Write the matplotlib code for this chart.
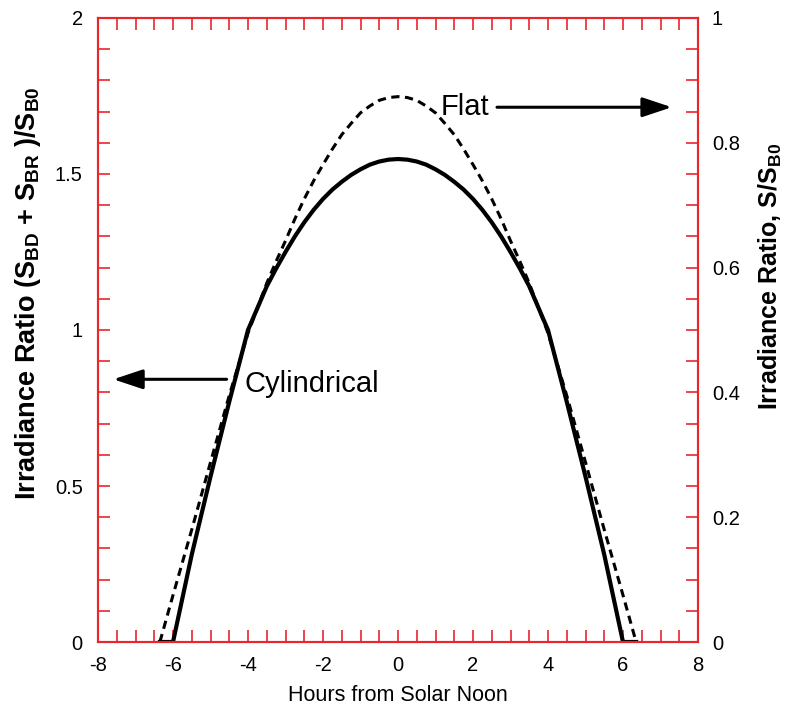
import matplotlib
matplotlib.use("Agg")
import matplotlib.pyplot as plt
from matplotlib.ticker import MultipleLocator, FormatStrFormatter

plt.rcParams['font.family'] = ['Liberation Sans', 'DejaVu Sans']
plt.rcParams['mathtext.fontset'] = 'custom'
plt.rcParams['mathtext.rm'] = 'Liberation Sans'
plt.rcParams['mathtext.bf'] = 'Liberation Sans:bold'
plt.rcParams['axes.unicode_minus'] = False

# hours from solar noon
hours = [-6.35, -6.0, -5.5, -5.0, -4.5, -4.0, -3.5, -3.25, -3.0, -2.75, -2.5, -2.25, -2.0,
         -1.75, -1.5, -1.25, -1.0, -0.75, -0.5, -0.25, 0.0,
         0.25, 0.5, 0.75, 1.0, 1.25, 1.5, 1.75, 2.0, 2.25, 2.5, 2.75, 3.0, 3.25, 3.5,
         4.0, 4.5, 5.0, 5.5, 6.0, 6.35]
# cylindrical collector, left axis
cyl = [0.0, 0.0, 0.28, 0.53, 0.77, 1.0, 1.14, 1.197, 1.25, 1.30, 1.345, 1.385, 1.42,
       1.45, 1.475, 1.497, 1.515, 1.53, 1.54, 1.546, 1.548,
       1.546, 1.54, 1.53, 1.515, 1.497, 1.475, 1.45, 1.42, 1.385, 1.345, 1.30, 1.25, 1.197, 1.14,
       1.0, 0.77, 0.53, 0.28, 0.0, 0.0]
# flat collector, right axis
flat = [0.0, 0.075, 0.18, 0.288, 0.395, 0.495, 0.575, 0.61, 0.643, 0.678, 0.71, 0.739, 0.765,
        0.79, 0.813, 0.831, 0.848, 0.859, 0.868, 0.8725, 0.874,
        0.8725, 0.868, 0.859, 0.848, 0.831, 0.813, 0.79, 0.765, 0.739, 0.71, 0.678, 0.643, 0.61, 0.575,
        0.495, 0.395, 0.288, 0.18, 0.075, 0.0]

red = '#e8262b'

fig = plt.figure(figsize=(8, 7.17), dpi=100)
ax = fig.add_axes([0.1225, 0.1046, 0.75, 0.8703])
ax2 = ax.twinx()

ax.plot(hours, cyl, color='black', lw=3, solid_joinstyle='round')
ax2.plot(hours, flat, color='black', lw=2.2, dashes=(2.7, 1.8))

ax.set_xlim(-8, 8)
ax.set_ylim(0, 2)
ax2.set_ylim(0, 1)

ax.xaxis.set_major_locator(MultipleLocator(2))
ax.xaxis.set_minor_locator(MultipleLocator(0.5))
ax.yaxis.set_major_locator(MultipleLocator(0.5))
ax.yaxis.set_minor_locator(MultipleLocator(0.1))
ax.yaxis.set_major_formatter(FormatStrFormatter('%g'))
ax2.yaxis.set_major_locator(MultipleLocator(0.2))
ax2.yaxis.set_minor_locator(MultipleLocator(0.05))
ax2.yaxis.set_major_formatter(FormatStrFormatter('%g'))

for a in (ax, ax2):
    for s in a.spines.values():
        s.set_color(red)
        s.set_linewidth(1.5)
ax.tick_params(which='both', direction='in', length=8.5, width=1.2, color=red,
               top=True, right=False, labelsize=14.5, labelcolor='black')
ax.tick_params(axis='x', which='major', pad=10)
ax.tick_params(axis='y', which='major', pad=11)
ax2.tick_params(which='both', direction='in', length=8.5, width=1.2, color=red,
                labelsize=14.5, labelcolor='black', pad=10)

ax.set_xlabel('Hours from Solar Noon', fontsize=15.5, labelpad=7)
ax.set_ylabel(r'Irradiance Ratio (S$_{\mathbf{BD}}$ + S$_{\mathbf{BR}}$ )/S$_{\mathbf{B0}}$',
              fontsize=19.5, fontweight='bold')
ax.yaxis.set_label_coords(-0.092, 0.559)
ax2.set_ylabel(r'Irradiance Ratio, S/S$_{\mathbf{B0}}$', fontsize=18, fontweight='bold')
ax2.yaxis.set_label_coords(1.098, 0.585)

ax.text(1.14, 1.689, 'Flat', fontsize=21, ha='left', va='baseline')
ax.annotate('', xy=(7.3, 1.714), xytext=(2.64, 1.714),
            arrowprops=dict(arrowstyle='-|>,head_length=1.2,head_width=0.4',
                            mutation_scale=15, color='black', lw=2.2,
                            shrinkA=0, shrinkB=0))
ax.text(-4.1, 0.802, 'Cylindrical', fontsize=21, ha='left', va='baseline')
ax.annotate('', xy=(-7.59, 0.842), xytext=(-4.57, 0.842),
            arrowprops=dict(arrowstyle='-|>,head_length=1.2,head_width=0.4',
                            mutation_scale=15, color='black', lw=2.2,
                            shrinkA=0, shrinkB=0))

fig.savefig('out.png', dpi=100)
